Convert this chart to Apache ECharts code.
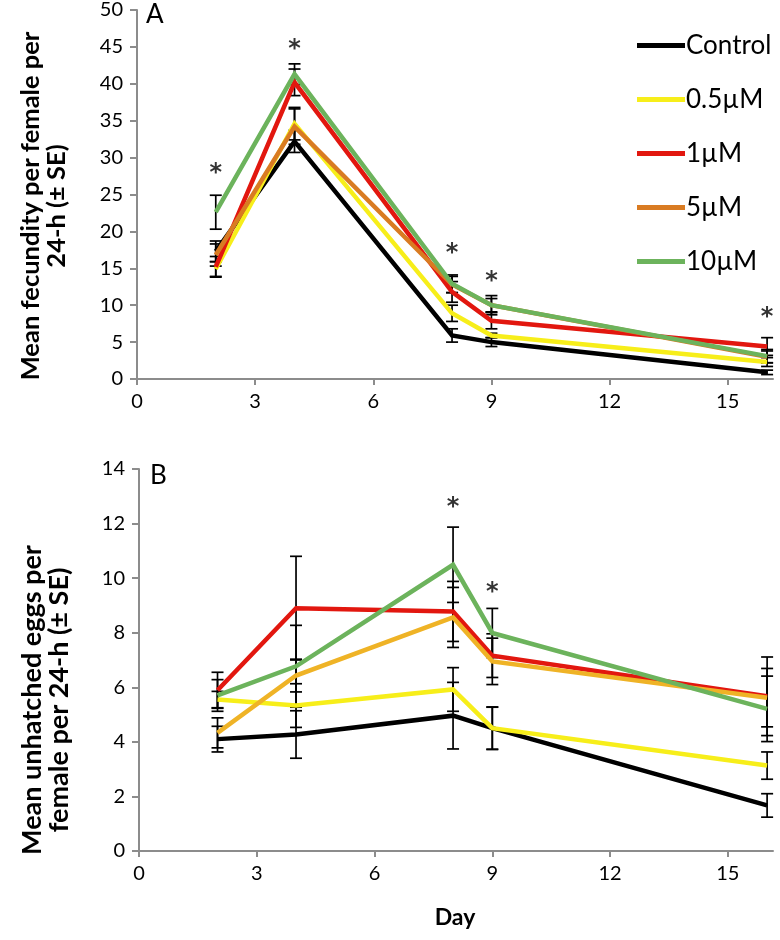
<!DOCTYPE html>
<html>
<head>
<meta charset="utf-8">
<script src="https://cdn.jsdelivr.net/npm/echarts@6/dist/echarts.min.js"></script>
<style>
  html, body { margin: 0; padding: 0; background: #fff; }
  #chart { width: 780px; height: 940px; }
</style>
</head>
<body>
<div id="chart"></div>
<script>
// days sampled
const days = [2, 4, 8, 9, 16];
const seriesNames = ['Control', '0.5µM', '1µM', '5µM', '10µM'];

// panel A: mean fecundity per female per 24-h
const fecControl = [17.3, 32.2, 5.9, 5.0, 0.9];
const fecC05 = [14.9, 34.6, 8.9, 5.9, 2.3];
const fecC1 = [15.2, 40.2, 11.8, 7.9, 4.4];
const fecC5 = [16.8, 34.2, 12.8, 10.0, 3.0];
const fecC10 = [22.6, 41.3, 12.9, 10.0, 3.1];
const fecSeControl = [1.4, 1.5, 0.9, 0.6, 0.3];
const fecSeC05 = [1.0, 2.2, 1.1, 0.3, 0.6];
const fecSeC1 = [1.4, 1.8, 1.4, 1.1, 1.2];
const fecSeC5 = [1.5, 2.4, 1.1, 0.9, 0.8];
const fecSeC10 = [2.3, 1.4, 1.2, 1.3, 0.9];
const starDaysA = [2, 4, 8, 9, 16];
const starYA = [28.6, 45.4, 17.8, 14.0, 9.1];

// panel B: mean unhatched eggs per female per 24-h
const unhControl = [4.1, 4.27, 4.96, 4.5, 1.67];
const unhC05 = [5.55, 5.33, 5.92, 4.5, 3.13];
const unhC1 = [5.89, 8.9, 8.78, 7.16, 5.67];
const unhC5 = [4.33, 6.43, 8.56, 6.95, 5.62];
const unhC10 = [5.7, 6.77, 10.49, 7.99, 5.21];
const unhSeControl = [0.47, 0.87, 1.22, 0.78, 0.43];
const unhSeC05 = [0.3, 0.8, 0.8, 0.77, 0.5];
const unhSeC1 = [0.66, 1.9, 1.1, 0.8, 1.44];
const unhSeC5 = [0.55, 0.6, 1.1, 0.85, 1.07];
const unhSeC10 = [0.58, 1.5, 1.38, 0.9, 1.2];
const starDaysB = [8, 9];
const starYB = [12.8, 9.7];

const colorsA = ['#000000', '#f7ee1a', '#e2170f', '#d97b22', '#6cb35c'];
const colorsB = ['#000000', '#f7ee1a', '#e2170f', '#efb326', '#6cb35c'];

const FONT = 'Lato, "Open Sans", sans-serif';
const chart = echarts.init(document.getElementById('chart'), null, { renderer: 'canvas' });

function pairs(vals) {
  return days.map((d, i) => [d, vals[i]]);
}
function errData(vals, se) {
  return days.map((d, i) => [d, vals[i] - se[i], vals[i] + se[i]]);
}
function renderErr(params, api) {
  const lo = api.coord([api.value(0), api.value(1)]);
  const hi = api.coord([api.value(0), api.value(2)]);
  const w = 6;
  const st = { stroke: '#000', lineWidth: 1.7 };
  return {
    type: 'group',
    children: [
      { type: 'line', shape: { x1: lo[0], y1: lo[1], x2: hi[0], y2: hi[1] }, style: st },
      { type: 'line', shape: { x1: lo[0] - w, y1: lo[1], x2: lo[0] + w, y2: lo[1] }, style: st },
      { type: 'line', shape: { x1: hi[0] - w, y1: hi[1], x2: hi[0] + w, y2: hi[1] }, style: st }
    ]
  };
}

const panelA = [fecControl, fecC05, fecC1, fecC5, fecC10];
const panelASe = [fecSeControl, fecSeC05, fecSeC1, fecSeC5, fecSeC10];
const panelB = [unhControl, unhC05, unhC1, unhC5, unhC10];
const panelBSe = [unhSeControl, unhSeC05, unhSeC1, unhSeC5, unhSeC10];

const series = [];
[[panelA, panelASe, colorsA, 0], [panelB, panelBSe, colorsB, 1]].forEach(([vals, ses, cols, idx]) => {
  vals.forEach((v, i) => {
    series.push({
      name: 'se-' + idx + '-' + i,
      type: 'custom',
      xAxisIndex: idx, yAxisIndex: idx,
      renderItem: renderErr,
      data: errData(v, ses[i]),
      z: 1
    });
  });
  vals.forEach((v, i) => {
    series.push({
      // legend only lists panel A names; panel B lines get a trailing space
      name: idx ? seriesNames[i] + ' ' : seriesNames[i],
      type: 'line',
      xAxisIndex: idx, yAxisIndex: idx,
      data: pairs(v),
      showSymbol: false,
      symbol: 'none',
      color: cols[i],
      lineStyle: { width: 4.5, color: cols[i], join: 'miter' },
      z: 2 + i
    });
  });
});

function stars(xs, ys, idx) {
  return {
    type: 'scatter',
    xAxisIndex: idx, yAxisIndex: idx,
    symbolSize: 1,
    itemStyle: { color: 'rgba(0,0,0,0)' },
    data: xs.map((x, i) => [x, ys[i]]),
    label: {
      show: true, position: 'inside', formatter: '*', offset: [0, 6],
      fontSize: 24, fontWeight: 'bold', color: '#000', fontFamily: '"DejaVu Sans", sans-serif'
    },
    z: 10
  };
}
series.push(stars(starDaysA, starYA, 0));
series.push(stars(starDaysB, starYB, 1));

const axisLineStyle = { color: '#8c8c8c', width: 2 };
function xAxis(gridIndex) {
  return {
    type: 'value', gridIndex, min: 0, max: 16.15, interval: 3,
    axisLine: { show: true, onZero: false, lineStyle: axisLineStyle },
    axisTick: { show: true, length: 6, lineStyle: axisLineStyle },
    axisLabel: { fontSize: 20, color: '#000', fontFamily: FONT, margin: 13, showMaxLabel: false },
    splitLine: { show: false }
  };
}
function yAxis(gridIndex, max, interval) {
  return {
    type: 'value', gridIndex, min: 0, max, interval,
    axisLine: { show: true, lineStyle: axisLineStyle },
    axisTick: { show: true, length: 7, lineStyle: axisLineStyle },
    axisLabel: { fontSize: 20, color: '#000', fontFamily: FONT, margin: 14 },
    splitLine: { show: false }
  };
}

const option = {
  animation: false,
  backgroundColor: '#fff',
  grid: [
    { left: 137, top: 7, width: 636, height: 372 },
    { left: 139, top: 469, width: 634, height: 382 }
  ],
  xAxis: [xAxis(0), xAxis(1)],
  yAxis: [yAxis(0, 50, 5), yAxis(1, 14, 2)],
  legend: {
    data: seriesNames,
    orient: 'vertical',
    left: 632, top: 25,
    icon: 'rect',
    itemWidth: 48, itemHeight: 5,
    itemGap: 23,
    textStyle: { fontSize: 26, color: '#000', fontFamily: FONT, lineHeight: 31, padding: [0, 0, 0, -4] }
  },
  graphic: [
    { type: 'text', left: 146, top: 2, style: { text: 'A', fontSize: 26, fontFamily: FONT, fill: '#000' } },
    { type: 'text', left: 150, top: 463, style: { text: 'B', fontSize: 26, fontFamily: FONT, fill: '#000' } },
    {
      type: 'text', x: 44, y: 206, rotation: Math.PI / 2,
      style: {
        text: 'Mean fecundity per female per\n24-h (± SE)',
        fontSize: 25.5, fontWeight: 'bold', fontFamily: FONT, fill: '#000',
        align: 'center', verticalAlign: 'middle', lineHeight: 26
      }
    },
    {
      type: 'text', x: 46, y: 700, rotation: Math.PI / 2,
      style: {
        text: 'Mean unhatched eggs per\nfemale per 24-h (± SE)',
        fontSize: 27, fontWeight: 'bold', fontFamily: FONT, fill: '#000',
        align: 'center', verticalAlign: 'middle', lineHeight: 27
      }
    },
    {
      type: 'text', x: 455, y: 918,
      style: {
        text: 'Day', fontSize: 23, fontWeight: 'bold', fontFamily: FONT, fill: '#000',
        align: 'center', verticalAlign: 'middle'
      }
    }
  ],
  series
};

chart.setOption(option);
</script>
</body>
</html>
